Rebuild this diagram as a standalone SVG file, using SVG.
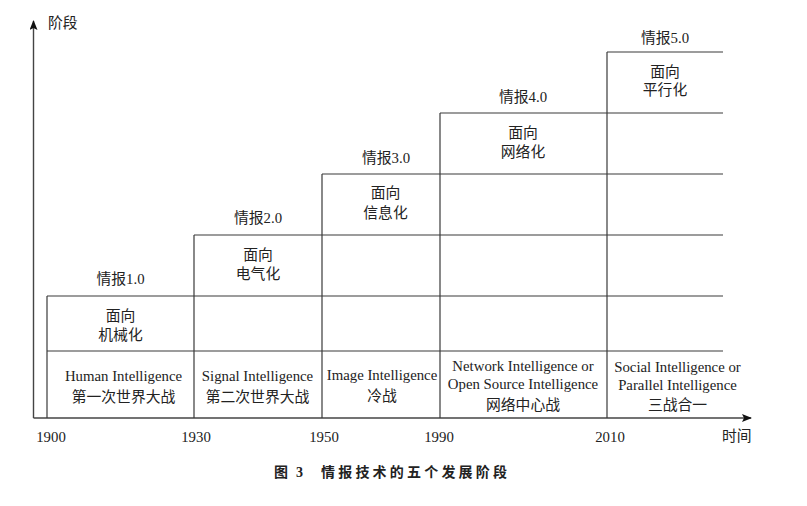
<svg xmlns="http://www.w3.org/2000/svg" width="807" height="506" viewBox="0 0 807 506">
<style>
.t{font-family:"Liberation Serif","Noto Sans CJK SC",serif;font-size:14.8px;fill:#222;text-anchor:middle}
.s{text-anchor:start}
.ln{stroke:#3a3a3a;stroke-width:1.2;fill:none}
.ax{stroke:#444;stroke-width:1.4;fill:none}
.cap{font-family:"Liberation Serif","Noto Sans CJK SC",serif;font-size:14px;font-weight:bold;fill:#222}
</style>
<defs>
<marker id="arr" markerWidth="10" markerHeight="10" refX="9" refY="4" orient="auto" markerUnits="userSpaceOnUse">
<path d="M0,0 L10,4 L0,8 L2,4 Z" fill="#111"/>
</marker>
</defs>
<rect width="807" height="506" fill="#fff"/>
<g id="axes">
<line class="ax" x1="33.5" y1="418" x2="33.5" y2="21" marker-end="url(#arr)"/>
<line class="ax" x1="33.5" y1="418" x2="751" y2="418" marker-end="url(#arr)"/>
<text class="t s" x="48" y="28">阶段</text>
<text class="t s" x="722" y="441">时间</text>
<text class="t" x="51" y="442">1900</text>
<text class="t" x="196" y="442">1930</text>
<text class="t" x="324" y="442">1950</text>
<text class="t" x="439" y="442">1990</text>
<text class="t" x="610" y="442">2010</text>
</g>
<g id="connectors">
<line class="ln" x1="47" y1="296" x2="723" y2="296"/>
<line class="ln" x1="47" y1="351" x2="723" y2="351"/>
<line class="ln" x1="194" y1="235" x2="723" y2="235"/>
<line class="ln" x1="322" y1="174" x2="723" y2="174"/>
<line class="ln" x1="440" y1="113" x2="723" y2="113"/>
<line class="ln" x1="607" y1="52" x2="723" y2="52"/>
<line class="ln" x1="47" y1="296" x2="47" y2="418"/>
<line class="ln" x1="194" y1="235" x2="194" y2="418"/>
<line class="ln" x1="322" y1="174" x2="322" y2="418"/>
<line class="ln" x1="440" y1="113" x2="440" y2="418"/>
<line class="ln" x1="607" y1="52" x2="607" y2="418"/>
</g>
<g id="stage1">
<text class="t" x="120.5" y="284">情报1.0</text>
<text class="t" x="120.5" y="321">面向</text>
<text class="t" x="120.5" y="340">机械化</text>
<text class="t" x="123.5" y="381">Human Intelligence</text>
<text class="t" x="123.5" y="402">第一次世界大战</text>
</g>
<g id="stage2">
<text class="t" x="258" y="223">情报2.0</text>
<text class="t" x="258" y="260">面向</text>
<text class="t" x="258" y="279">电气化</text>
<text class="t" x="257.5" y="381">Signal Intelligence</text>
<text class="t" x="257.5" y="402">第二次世界大战</text>
</g>
<g id="stage3">
<text class="t" x="386" y="163">情报3.0</text>
<text class="t" x="385.5" y="198">面向</text>
<text class="t" x="385.5" y="218">信息化</text>
<text class="t" x="382" y="380">Image Intelligence</text>
<text class="t" x="382" y="401">冷战</text>
</g>
<g id="stage4">
<text class="t" x="523" y="102">情报4.0</text>
<text class="t" x="523" y="138">面向</text>
<text class="t" x="523" y="157">网络化</text>
<text class="t" x="523" y="371">Network Intelligence or</text>
<text class="t" x="523" y="389">Open Source Intelligence</text>
<text class="t" x="523" y="410">网络中心战</text>
</g>
<g id="stage5">
<text class="t" x="665" y="43">情报5.0</text>
<text class="t" x="665" y="77">面向</text>
<text class="t" x="665" y="95">平行化</text>
<text class="t" x="677.5" y="372">Social Intelligence or</text>
<text class="t" x="677.5" y="390">Parallel Intelligence</text>
<text class="t" x="677.5" y="410">三战合一</text>
</g>
<g id="caption">
<text class="cap" x="274" y="477">图</text>
<text class="cap" x="296" y="477">3</text>
<text class="cap" x="321" y="477" letter-spacing="3.2">情报技术的五个发展阶段</text>
</g>
</svg>
